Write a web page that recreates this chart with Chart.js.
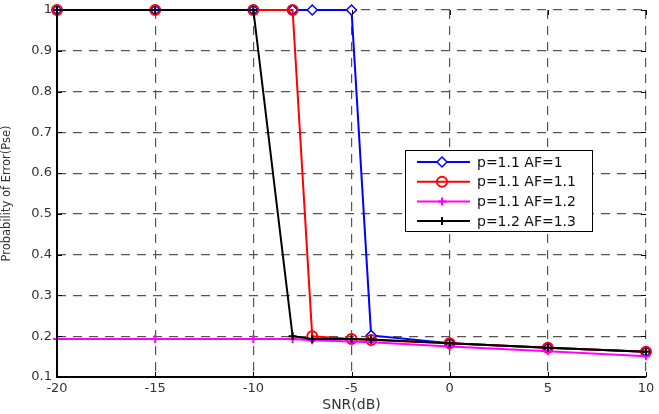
<!DOCTYPE html>
<html>
<head>
<meta charset="utf-8">
<script src="https://cdn.jsdelivr.net/npm/chart.js"></script>
<style>
  html, body { margin: 0; padding: 0; background: #fff; }
  #wrap { width: 659px; height: 414px; }
</style>
</head>
<body>
<div id="wrap"><canvas id="chart" width="659" height="414"></canvas></div>
<script>
// Data
const snr = [-20, -15, -10, -8, -7, -5, -4, 0, 5, 10];
const xTicks = [-20, -15, -10, -5, 0, 5, 10];
const yTicks = [0.1, 0.2, 0.3, 0.4, 0.5, 0.6, 0.7, 0.8, 0.9, 1];
const seriesNames = ['p=1.1 AF=1', 'p=1.1 AF=1.1', 'p=1.1 AF=1.2', 'p=1.2 AF=1.3'];
const pAF1 = [1, 1, 1, 1, 1, 1, 0.202, 0.183, 0.172, 0.162];
const pAF11 = [1, 1, 1, 1, 0.2, 0.193, 0.191, 0.183, 0.172, 0.162];
const pAF12 = [0.193, 0.193, 0.193, 0.193, 0.19, 0.187, 0.185, 0.175, 0.163, 0.151];
const pAF13 = [1, 1, 1, 0.2, 0.193, 0.193, 0.192, 0.183, 0.172, 0.162];

const FONT = '"DejaVu Sans", Verdana, sans-serif';
const toPoints = vals => snr.map((x, i) => ({ x: x, y: vals[i] }));

function drawMarker(ctx, style, x, y, r) {
  ctx.beginPath();
  if (style === 'rectRot') {
    ctx.moveTo(x, y - r); ctx.lineTo(x + r, y); ctx.lineTo(x, y + r); ctx.lineTo(x - r, y); ctx.closePath();
    ctx.fill(); ctx.stroke();
  } else if (style === 'circle') {
    ctx.arc(x, y, r, 0, Math.PI * 2);
    ctx.fill(); ctx.stroke();
  } else {
    ctx.moveTo(x - r, y); ctx.lineTo(x + r, y); ctx.moveTo(x, y - r); ctx.lineTo(x, y + r);
    ctx.stroke();
  }
}

// Legend drawn inside the plot area, like the original
const insideLegend = {
  id: 'insideLegend',
  afterDraw(chart) {
    const ctx = chart.ctx;
    const left = 405, top = 150, w = 187, h = 81;
    ctx.save();
    ctx.fillStyle = '#fff';
    ctx.fillRect(left, top, w, h);
    ctx.strokeStyle = '#000';
    ctx.lineWidth = 1;
    ctx.strokeRect(left + 0.5, top + 0.5, w, h);
    ctx.font = '14px ' + FONT;
    ctx.textBaseline = 'middle';
    chart.data.datasets.forEach((ds, i) => {
      const y = top + 12 + i * 19.7;
      ctx.strokeStyle = ds.borderColor;
      ctx.lineWidth = ds.borderWidth;
      ctx.beginPath();
      ctx.moveTo(left + 12, y);
      ctx.lineTo(left + 65, y);
      ctx.stroke();
      ctx.fillStyle = ds.pointBackgroundColor;
      ctx.lineWidth = ds.pointBorderWidth;
      drawMarker(ctx, ds.pointStyle, left + 37, y, ds.pointRadius);
      ctx.fillStyle = '#111';
      ctx.fillText(seriesNames[i], left + 72, y + 1);
    });
    ctx.restore();
  }
};

// Solid left/bottom axes and small inward tick marks
const axesFrame = {
  id: 'axesFrame',
  afterDatasetsDraw(chart) {
    const a = chart.chartArea, c = chart.ctx;
    const sx = chart.scales.x, sy = chart.scales.y;
    c.save();
    c.strokeStyle = '#000';
    c.lineWidth = 1;
    c.beginPath();
    xTicks.forEach(v => {
      const px = Math.round(sx.getPixelForValue(v)) + 0.5;
      c.moveTo(px, a.bottom); c.lineTo(px, a.bottom - 5);
      c.moveTo(px, a.top); c.lineTo(px, a.top + 5);
    });
    yTicks.forEach(v => {
      const py = Math.round(sy.getPixelForValue(v)) + 0.5;
      c.moveTo(a.left, py); c.lineTo(a.left + 5, py);
      c.moveTo(a.right, py); c.lineTo(a.right - 5, py);
    });
    c.stroke();
    c.lineWidth = 2;
    c.beginPath();
    c.moveTo(a.left, a.top);
    c.lineTo(a.left, a.bottom);
    c.lineTo(a.right, a.bottom);
    c.stroke();
    c.restore();
  }
};

const ctx = document.getElementById('chart').getContext('2d');
new Chart(ctx, {
  type: 'line',
  data: {
    datasets: [
      {
        label: seriesNames[0], data: toPoints(pAF1), order: 4, clip: false,
        borderColor: '#0000ff', borderWidth: 2,
        pointStyle: 'rectRot', pointRadius: 5, pointBorderWidth: 1.5,
        pointBackgroundColor: '#ffffff', pointBorderColor: '#0000ff'
      },
      {
        label: seriesNames[1], data: toPoints(pAF11), order: 3, clip: false,
        borderColor: '#ff0000', borderWidth: 2,
        pointStyle: 'circle', pointRadius: 5, pointBorderWidth: 2,
        pointBackgroundColor: 'rgba(255,255,255,0)', pointBorderColor: '#ff0000'
      },
      {
        label: seriesNames[2], data: toPoints(pAF12), order: 2, clip: false,
        borderColor: '#ff00ff', borderWidth: 2,
        pointStyle: 'cross', pointRadius: 4, pointBorderWidth: 2,
        pointBackgroundColor: '#ff00ff', pointBorderColor: '#ff00ff'
      },
      {
        label: seriesNames[3], data: toPoints(pAF13), order: 1, clip: false,
        borderColor: '#000000', borderWidth: 2,
        pointStyle: 'cross', pointRadius: 4, pointBorderWidth: 2,
        pointBackgroundColor: '#000000', pointBorderColor: '#000000'
      }
    ]
  },
  options: {
    responsive: false,
    animation: false,
    layout: { padding: { top: 10, right: 13, left: 0, bottom: 0 } },
    elements: { line: { tension: 0 } },
    plugins: {
      legend: { display: false },
      tooltip: { enabled: false }
    },
    scales: {
      x: {
        type: 'linear',
        min: -20, max: 10,
        afterBuildTicks: s => { s.ticks = xTicks.map(v => ({ value: v })); },
        afterFit: s => { s.height = 37; s.paddingLeft = 0; s.paddingRight = 0; },
        ticks: {
          color: '#333', padding: 4,
          font: { family: FONT, size: 13 }
        },
        grid: { color: '#555', lineWidth: 1.2, drawTicks: false },
        border: { display: false, dash: [9, 7] },
        title: {
          display: true, text: 'SNR(dB)', color: '#333', padding: { top: 0, bottom: 0 },
          font: { family: FONT, size: 14 }
        }
      },
      y: {
        min: 0.1, max: 1,
        afterBuildTicks: s => { s.ticks = yTicks.map(v => ({ value: v })); },
        afterFit: s => { s.width = 57; s.paddingTop = 0; s.paddingBottom = 0; },
        ticks: {
          color: '#333', padding: 5,
          font: { family: FONT, size: 13 },
          callback: v => String(Math.round(v * 10) / 10)
        },
        grid: { color: '#555', lineWidth: 1.2, drawTicks: false },
        border: { display: false, dash: [9, 7] },
        title: {
          display: true, text: 'Probability of Error(Pse)', color: '#333', padding: { top: 0, bottom: 0 },
          font: { family: FONT, size: 11.5 }
        }
      }
    }
  },
  plugins: [axesFrame, insideLegend]
});
</script>
</body>
</html>
